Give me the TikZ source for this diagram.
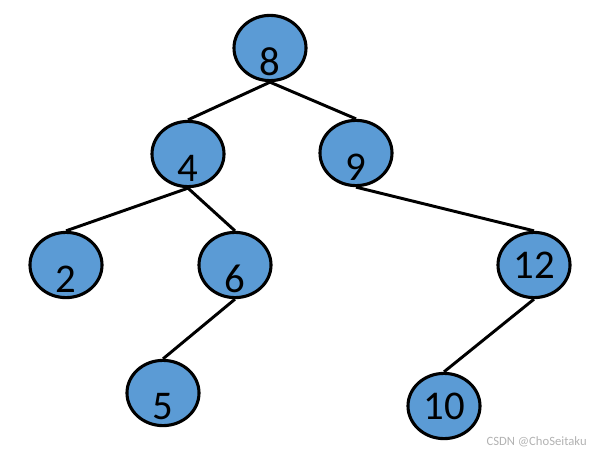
\documentclass[tikz,border=0pt]{standalone}
\usepackage{fontspec}
\setmainfont{Carlito}
\usetikzlibrary{shapes.geometric}
\definecolor{nodeblue}{RGB}{91,155,213}
\definecolor{markgray}{RGB}{178,178,178}

\begin{document}
\begin{tikzpicture}[
  x=0.025cm, y=-0.025cm,
  every node/.style={font=\fontsize{29}{29}\selectfont},
  treenode/.style={ellipse, fill=nodeblue, draw=black, line width=2.2pt, minimum width=1.8cm, minimum height=1.63cm, inner sep=0pt},
  lownum/.style={label={[yshift=-0.35cm]center:#1}},
  branch/.style={-, line width=2.1pt, black},
]
\useasboundingbox (0,0) rectangle (590,453);

% ---- tree nodes ----
\node[treenode, lownum=8] (n8)  at (270,48)  {};
\node[treenode, lownum=4] (n4)  at (188,154) {};
\node[treenode, lownum=9] (n9)  at (356,153) {};
\node[treenode, lownum=2] (n2)  at (66,265)  {};
\node[treenode, lownum=6] (n6)  at (235,265) {};
\node[treenode] (n12) at (534,265) {12};
\node[treenode, lownum=5] (n5)  at (163,393) {};
\node[treenode] (n10) at (444,406) {10};

% ---- branches ----
\draw[branch] (n8.south) -- (n4.north);
\draw[branch] (n8.south) -- (n9.north);
\draw[branch] (n4.south) -- (n2.north);
\draw[branch] (n4.south) -- (n6.north);
\draw[branch] (n6.south) -- (n5.north);
\draw[branch] (n9.south) -- (n12.north);
\draw[branch] (n12.south) -- (n10.north);

% ---- watermark ----
\node[font=\fontsize{9}{9}\selectfont, text=markgray, anchor=east, inner sep=0pt] (mark) at (587,442) {CSDN @ChoSeitaku};

\end{tikzpicture}
\end{document}
